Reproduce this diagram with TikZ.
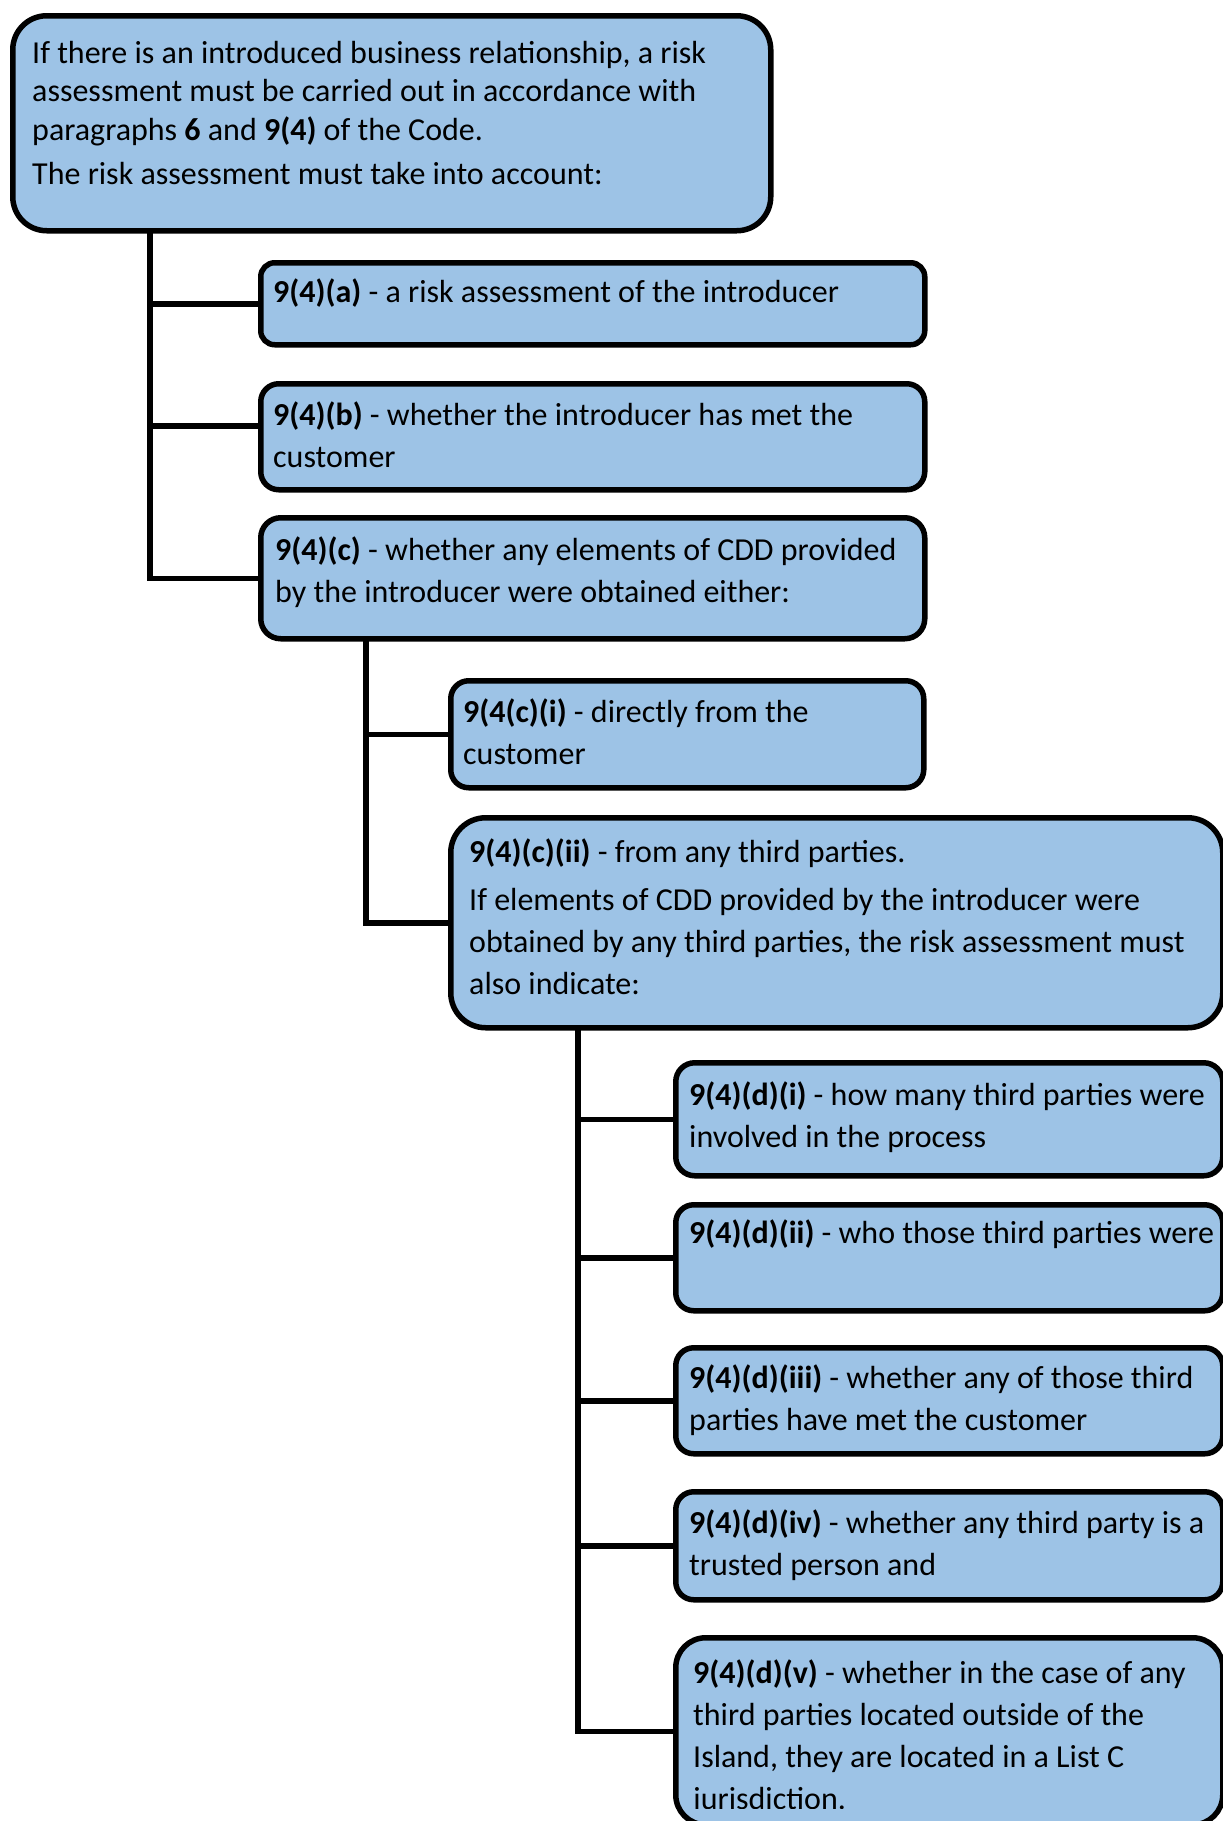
\documentclass[tikz,border=0pt]{standalone}
\usepackage{fontspec}
\setmainfont{Carlito}
\definecolor{boxfill}{RGB}{157,195,230}

\begin{document}
\begin{tikzpicture}[line join=miter,
  box/.style={draw=black,fill=boxfill,line width=5.5bp,anchor=north west,inner sep=0pt},
  txt/.style={anchor=base west,align=flush left,text width=760bp,inner sep=0pt,font=\fontsize{32bp}{42bp}\selectfont},
  link/.style={draw=black,line width=5.5bp}]

\clip (0bp,0bp) rectangle (1223bp,-1821bp);

% Node: top
\node[box,minimum width=758bp,minimum height=215bp,rounded corners=34bp] (top) at (10bp,-13bp) {};
\node[txt,font=\fontsize{32bp}{38.5bp}\selectfont] (top-t) at (32bp,-63bp) {If there is an introduced business relationship, a risk\\
assessment must be carried out in accordance with\\
paragraphs \textbf{6} and \textbf{9(4)} of the Code.\\[6bp]
The risk assessment must take into account:};

% Node: 9(4)(a)
\node[box,minimum width=664bp,minimum height=82bp,rounded corners=14bp] (a) at (258bp,-260bp) {};
\node[txt] (a-t) at (273bp,-302bp) {\textbf{9(4)(a)} - a risk assessment of the introducer};

% Node: 9(4)(b)
\node[box,minimum width=664bp,minimum height=106bp,rounded corners=18bp] (b) at (258bp,-381bp) {};
\node[txt] (b-t) at (273bp,-425bp) {\textbf{9(4)(b)} - whether the introducer has met the\\customer};

% Node: 9(4)(c)
\node[box,minimum width=664bp,minimum height=121bp,rounded corners=20bp] (c) at (258bp,-515bp) {};
\node[txt] (c-t) at (275bp,-560bp) {\textbf{9(4)(c)} - whether any elements of CDD provided\\by the introducer were obtained either:};

% Node: 9(4)(c)(i)
\node[box,minimum width=473bp,minimum height=107bp,rounded corners=18bp] (ci) at (448bp,-678bp) {};
\node[txt] (ci-t) at (463bp,-722bp) {\textbf{9(4(c)(i)} - directly from the\\customer};

% Node: 9(4)(c)(ii)
\node[box,minimum width=772bp,minimum height=210bp,rounded corners=35bp] (cii) at (448bp,-815bp) {};
\node[txt] (cii-t) at (469bp,-862bp) {\textbf{9(4)(c)(ii)} - from any third parties.\\[6bp]
If elements of CDD provided by the introducer were\\
obtained by any third parties, the risk assessment must\\
also indicate:};

% Node: 9(4)(d)(i)
\node[box,minimum width=547bp,minimum height=113bp,rounded corners=19bp] (di) at (673bp,-1060bp) {};
\node[txt] (di-t) at (689bp,-1105bp) {\textbf{9(4)(d)(i)} - how many third parties were\\involved in the process};

% Node: 9(4)(d)(ii)
\node[box,minimum width=547bp,minimum height=106bp,rounded corners=18bp] (dii) at (673bp,-1202bp) {};
\node[txt] (dii-t) at (689bp,-1243bp) {\textbf{9(4)(d)(ii)} - who those third parties were};

% Node: 9(4)(d)(iii)
\node[box,minimum width=547bp,minimum height=106bp,rounded corners=18bp] (diii) at (673bp,-1345bp) {};
\node[txt] (diii-t) at (689bp,-1388bp) {\textbf{9(4)(d)(iii)} - whether any of those third\\parties have met the customer};

% Node: 9(4)(d)(iv)
\node[box,minimum width=547bp,minimum height=108bp,rounded corners=18bp] (div) at (673bp,-1489bp) {};
\begin{scope}
  \clip (680bp,-1495bp) rectangle (1220bp,-1581bp);
  \node[txt] (div-t) at (689bp,-1533bp) {\textbf{9(4)(d)(iv)} - whether any third party is a\\trusted person and};
\end{scope}

% Node: 9(4)(d)(v)
\node[box,minimum width=547bp,minimum height=187bp,rounded corners=30bp] (dv) at (673bp,-1635bp) {};
\begin{scope}
  \clip (680bp,-1641bp) rectangle (1220bp,-1808bp);
  \node[txt] (dv-t) at (693bp,-1683bp) {\textbf{9(4)(d)(v)} - whether in the case of any\\third parties located outside of the\\Island, they are located in a List C\\jurisdiction.};
\end{scope}

\coordinate (t1) at (150bp,-228bp);
\coordinate (t2) at (366bp,-636bp);
\coordinate (t3) at (578bp,-1025bp);

% Edge: top -> 9(4)(a), 9(4)(b), 9(4)(c)
\draw[link] (a.west) -| (t1);
\draw[link] ([yshift=11bp]b.west) -| (t1);
\draw[link] (c.west) -| (t1);

% Edge: 9(4)(c) -> 9(4)(c)(i), 9(4)(c)(ii)
\draw[link] (ci.west) -| (t2);
\draw[link] (cii.west) -| (t2);

% Edge: 9(4)(c)(ii) -> 9(4)(d)(i) ... 9(4)(d)(v)
\draw[link] (di.west) -| (t3);
\draw[link] (dii.west) -| (t3);
\draw[link] (diii.west) -| (t3);
\draw[link] (div.west) -| (t3);
\draw[link] (dv.west) -| (t3);

\end{tikzpicture}
\end{document}
